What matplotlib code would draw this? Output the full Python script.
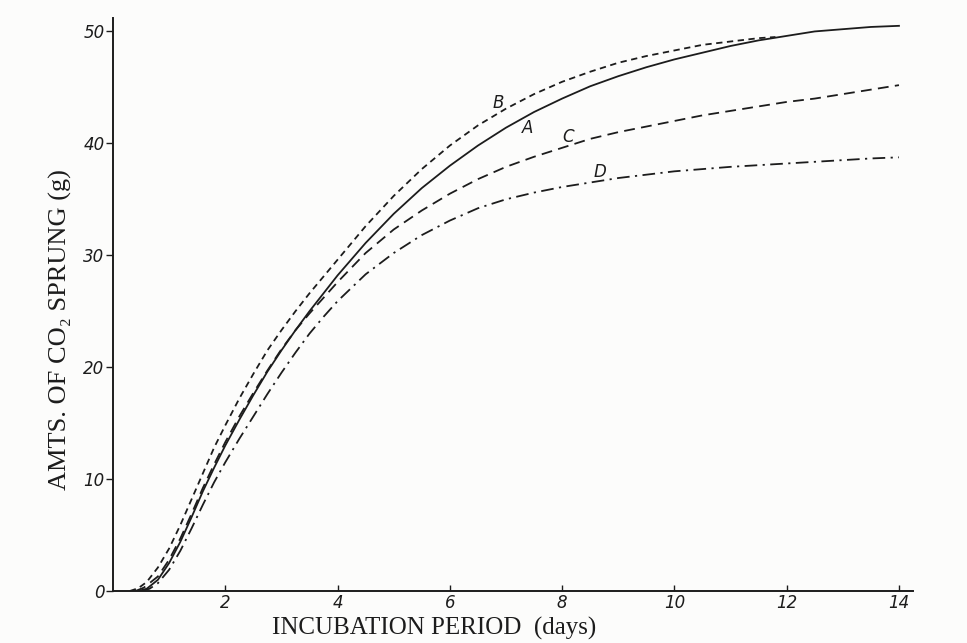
import matplotlib
matplotlib.use("Agg")
import matplotlib.pyplot as plt

# -------------------------------
# Data (days, grams of CO2)
# -------------------------------
days_A = [0.45, 0.6, 0.8, 1.0, 1.2, 1.4, 1.6, 1.8, 2.0, 2.25, 2.5, 2.75, 3.0,
          3.25, 3.5, 3.75, 4.0, 4.5, 5.0, 5.5, 6.0, 6.5, 7.0, 7.5, 8.0, 8.5,
          9.0, 9.5, 10.0, 10.5, 11.0, 11.5, 12.0, 12.5, 13.0, 13.5, 14.0]
co2_A = [0.0, 0.2, 1.0, 2.5, 4.4, 6.6, 8.9, 11.0, 13.0, 15.3, 17.5, 19.6, 21.5,
         23.3, 25.0, 26.6, 28.2, 31.1, 33.7, 36.0, 38.0, 39.8, 41.4, 42.8, 44.0, 45.1,
         46.0, 46.8, 47.5, 48.1, 48.7, 49.2, 49.6, 50.0, 50.2, 50.4, 50.5]

days_B = [0.3, 0.45, 0.6, 0.8, 1.0, 1.2, 1.4, 1.6, 1.8, 2.0, 2.25, 2.5, 2.75,
          3.0, 3.25, 3.5, 3.75, 4.0, 4.5, 5.0, 5.5, 6.0, 6.5, 7.0, 7.5, 8.0,
          8.5, 9.0, 9.5, 10.0, 10.5, 11.0, 11.5, 11.8]
co2_B = [0.0, 0.25, 0.8, 2.1, 3.8, 5.9, 8.2, 10.5, 12.8, 14.8, 17.2, 19.4, 21.5,
         23.3, 25.0, 26.6, 28.1, 29.6, 32.6, 35.3, 37.7, 39.8, 41.6, 43.1, 44.4, 45.5,
         46.4, 47.2, 47.8, 48.3, 48.8, 49.1, 49.4, 49.5]

days_C = [0.4, 0.55, 0.8, 1.0, 1.2, 1.4, 1.6, 1.8, 2.0, 2.25, 2.5, 2.75, 3.0,
          3.25, 3.5, 3.75, 4.0, 4.5, 5.0, 5.5, 6.0, 6.5, 7.0, 7.5, 8.0, 8.5,
          9.0, 9.5, 10.0, 10.5, 11.0, 11.5, 12.0, 12.5, 13.0, 13.5, 14.0]
co2_C = [0.0, 0.3, 1.3, 2.8, 4.7, 6.9, 9.2, 11.3, 13.3, 15.6, 17.7, 19.7, 21.6,
         23.3, 24.8, 26.2, 27.6, 30.2, 32.3, 34.0, 35.5, 36.8, 37.9, 38.8, 39.6, 40.4,
         41.0, 41.5, 42.0, 42.5, 42.9, 43.3, 43.7, 44.0, 44.4, 44.8, 45.2]

days_D = [0.5, 0.65, 0.8, 1.0, 1.2, 1.4, 1.6, 1.8, 2.0, 2.25, 2.5, 2.75, 3.0,
          3.25, 3.5, 3.75, 4.0, 4.5, 5.0, 5.5, 6.0, 6.5, 7.0, 7.5, 8.0, 8.5,
          9.0, 9.5, 10.0, 10.5, 11.0, 11.5, 12.0, 12.5, 13.0, 13.5, 14.0]
co2_D = [0.0, 0.2, 0.7, 1.9, 3.6, 5.6, 7.7, 9.7, 11.5, 13.6, 15.6, 17.6, 19.5,
         21.3, 23.0, 24.5, 25.9, 28.3, 30.2, 31.8, 33.1, 34.2, 35.0, 35.6, 36.1, 36.5,
         36.9, 37.2, 37.5, 37.7, 37.9, 38.05, 38.2, 38.35, 38.5, 38.65, 38.75]

x_ticks = [2, 4, 6, 8, 10, 12, 14]
y_ticks = [0, 10, 20, 30, 40, 50]

# curve name -> label position (days, grams)
label_names = ["B", "A", "C", "D"]
label_x = [6.86, 7.39, 8.10, 8.68]
label_y = [43.6, 41.4, 40.6, 37.4]

# -------------------------------
# Plot
# -------------------------------
ink = "#1c1c1c"
fig = plt.figure(figsize=(9.67, 6.43), dpi=100, facecolor="#fcfcfb")
ax = fig.add_axes([113 / 967, 52 / 643, 800 / 967, 573 / 643])
ax.set_facecolor("none")

ax.plot(days_A, co2_A, color=ink, lw=1.3, linestyle="-")
ax.plot(days_B, co2_B, color=ink, lw=1.3, dashes=(3.5, 2.5))
ax.plot(days_C, co2_C, color=ink, lw=1.3, dashes=(6, 3.5))
ax.plot(days_D, co2_D, color=ink, lw=1.3, dashes=(7, 3, 1.2, 3))

for name, lx, ly in zip(label_names, label_x, label_y):
    ax.text(lx, ly, name, fontsize=12, style="italic", color=ink,
            ha="center", va="center", family="DejaVu Sans")

ax.set_xlim(0, 14.25)
ax.set_ylim(0, 51.2)

for side in ["top", "right"]:
    ax.spines[side].set_visible(False)
for side in ["left", "bottom"]:
    ax.spines[side].set_linewidth(1.4)
    ax.spines[side].set_color(ink)

ax.set_xticks(x_ticks)
ax.set_xticklabels([str(t) for t in x_ticks])
ax.set_yticks(y_ticks)
ax.set_yticklabels([str(t) for t in y_ticks])
ax.tick_params(axis="x", direction="in", length=4, width=1, colors=ink,
               labelsize=12, pad=2)
ax.tick_params(axis="y", direction="out", length=5, width=1, colors=ink,
               labelsize=12, pad=1)
for lab in ax.get_xticklabels() + ax.get_yticklabels():
    lab.set_fontstyle("italic")
    lab.set_family("DejaVu Sans")

fig.text(434 / 967, 1 - 628 / 643, "INCUBATION PERIOD  (days)",
         ha="center", va="center", fontsize=18, color=ink,
         family=["Liberation Serif", "DejaVu Serif"])
fig.text(60 / 967, 1 - 330 / 643, "AMTS. OF CO\u2082 SPRUNG (g)",
         ha="center", va="center", rotation=90, fontsize=19, color=ink,
         family=["Liberation Serif", "DejaVu Serif"])

fig.savefig("out.png", dpi=100, facecolor=fig.get_facecolor())
